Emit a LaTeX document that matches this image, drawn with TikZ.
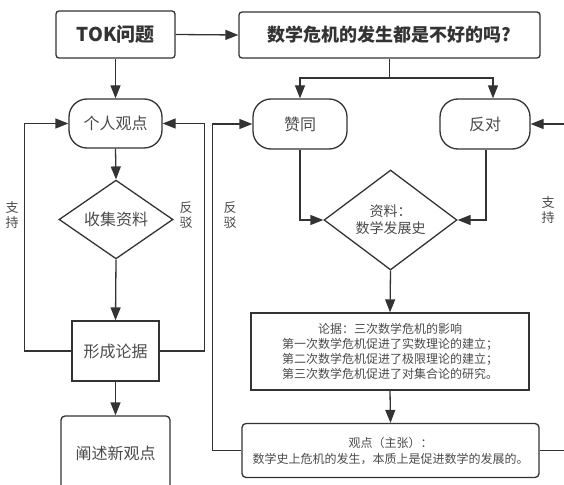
\documentclass[tikz,border=0pt]{standalone}
\usepackage{fontspec}
\setmainfont{Noto Sans CJK SC}
\usetikzlibrary{shapes.geometric,arrows.meta}
\definecolor{ln}{HTML}{333333}
\definecolor{tx}{HTML}{4A4A4A}
\tikzset{
  base/.style={draw=ln,line width=1.3pt,inner sep=0pt,align=center,text=tx},
  boldbox/.style={base,rounded corners=3pt,text=ln,font=\fontsize{19}{22}\selectfont\bfseries},
  stadium/.style={base,rounded corners=18pt,font=\fontsize{16}{19}\selectfont},
  plainbox/.style={base,font=\fontsize{16}{19}\selectfont},
  rbox/.style={base,rounded corners=4pt,font=\fontsize{16}{19}\selectfont},
  dia/.style={base,diamond,font=\fontsize{16}{19}\selectfont},
  lbl/.style={inner sep=0pt,align=center,text=tx,font=\fontsize{13}{14.5}\selectfont},
  arr/.style={draw=ln,line width=1.3pt,-{Triangle[length=13pt,width=10pt]}},
  ln/.style={draw=ln,line width=1.3pt}
}
\begin{document}
\begin{tikzpicture}[x=1pt,y=-1pt]
\useasboundingbox (0,0) rectangle (564,484);
\clip (0,0) rectangle (564,484);
% left column
\node[boldbox,minimum width=119pt,minimum height=47pt] (tok) at (115.5,34.5) {TOK问题};
\node[stadium,minimum width=93pt,minimum height=49pt] (geren) at (115.5,123.5) {个人观点};
\node[dia,minimum width=114pt,minimum height=77pt] (shouji) at (116,219.5) {收集资料};
\node[plainbox,minimum width=87pt,minimum height=60pt] (xingcheng) at (115.5,351) {形成论据};
\node[rbox,minimum width=109pt,minimum height=74pt] (chanshu) at (115.5,453) {阐述新观点};
% right part
\node[boldbox,minimum width=301pt,minimum height=46pt,font=\fontsize{18}{21}\selectfont\bfseries] (q) at (389.5,35) {数学危机的发生都是不好的吗?};
\node[stadium,minimum width=94pt,minimum height=50pt] (zan) at (300,124) {赞同};
\node[stadium,minimum width=90pt,minimum height=50pt] (fan) at (485,124) {反对};
\node[dia,minimum width=133pt,minimum height=80pt,font=\fontsize{14}{17}\selectfont] (ziliao) at (390.5,220) {资料：\\数学发展史};
\node[base,minimum width=278pt,minimum height=77pt,font=\fontsize{12}{15}\selectfont] (lunju) at (390,351.5) {论据：三次数学危机的影响\\第一次数学危机促进了实数理论的建立；\\第二次数学危机促进了极限理论的建立；\\第三次数学危机促进了对集合论的研究。};
\node[base,rounded corners=4pt,minimum width=297pt,minimum height=54pt,font=\fontsize{12}{16}\selectfont] (guandian) at (390.5,450.5) {观点（主张）：\\数学史上危机的发生，本质上是促进数学的发展的。};
% labels
\node[lbl] (l1) at (12,215) {支\\持};
\node[lbl] (l2) at (186,215) {反\\驳};
\node[lbl] (l3) at (230,215) {反\\驳};
\node[lbl] (l4) at (548,210) {支\\持};
% connectors left
\draw[arr] (tok.south) -- (geren.north);
\draw[arr] (geren.south) -- (shouji.north);
\draw[arr] (shouji.south) -- (xingcheng.north);
\draw[arr] (xingcheng.south) -- (chanshu.north);
\draw[arr] (xingcheng.west) -- ++(-47,0) |- (geren.west);
\draw[arr] (xingcheng.east) -- ++(45,0) |- (geren.east);
% connectors right
\draw[arr] (tok.east) -- (q.west);
\coordinate (split) at (389.5,78);
\draw[ln] (q.south) -- (split);
\draw[arr] (split) -| (zan.north);
\draw[arr] (split) -| ([xshift=8pt]fan.north);
\draw[arr] (zan.south) |- (ziliao.west);
\draw[arr] ([xshift=1pt]fan.south) |- (ziliao.east);
\draw[arr] (ziliao.south) -- (lunju.north);
\draw[arr] (lunju.south) -- (guandian.north);
\draw[arr] (guandian.west) -- ++(-29,0) |- (zan.west);
\draw[arr] (guandian.east) -- ++(40,0) |- (fan.east);
\end{tikzpicture}
\end{document}
